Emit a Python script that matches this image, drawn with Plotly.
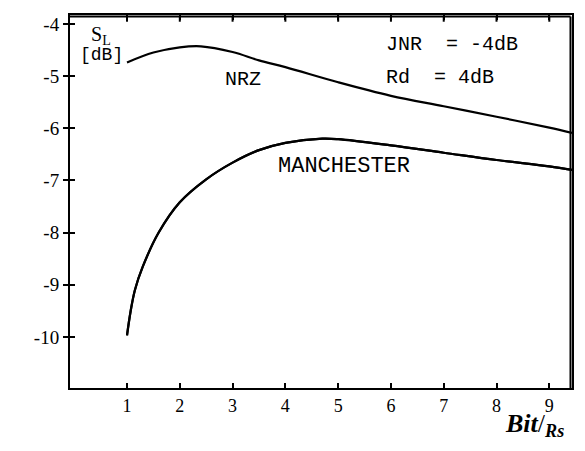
import plotly.graph_objects as go

# Data
nrz_x = [1.0, 1.5, 2.0, 2.4, 3.0, 3.5, 4.0, 5.0, 6.0, 7.0, 8.0, 9.0, 9.43]
nrz_y = [-4.74, -4.55, -4.45, -4.43, -4.54, -4.70, -4.83, -5.12, -5.38, -5.58, -5.78, -5.99, -6.09]

man_x = [1.0, 1.07, 1.15, 1.3, 1.6, 2.0, 2.5, 3.0, 3.5, 4.0, 4.7, 5.0, 6.0, 7.0, 8.0, 9.0, 9.43]
man_y = [-9.97, -9.5, -9.1, -8.65, -8.0, -7.42, -6.98, -6.66, -6.42, -6.28, -6.20, -6.21, -6.33, -6.47, -6.61, -6.73, -6.80]

x_ticks = [1, 2, 3, 4, 5, 6, 7, 8, 9]
x_tick_labels = ["1", "2", "3", "4", "5", "6", "7", "8", "9"]
y_ticks = [-4, -5, -6, -7, -8, -9, -10]
y_tick_labels = ["-4", "-5", "-6", "-7", "-8", "-9", "-10"]

x_range = [-0.08, 9.43]
y_range = [-10.98, -3.83]

line_style = dict(color="black", width=2.2, shape="spline")
fig = go.Figure()
fig.add_trace(go.Scatter(x=nrz_x, y=nrz_y, mode="lines", line=line_style, showlegend=False, hoverinfo="skip"))
fig.add_trace(go.Scatter(x=man_x, y=man_y, mode="lines", line=line_style, showlegend=False, hoverinfo="skip"))
# same curve drawn again on the overlay axis that carries the inner halves of the left ticks
fig.add_trace(go.Scatter(x=man_x, y=man_y, mode="lines", line=line_style, xaxis="x", yaxis="y3",
                         showlegend=False, hoverinfo="skip"))

mono = "Liberation Mono"
serif = "Liberation Serif"

annotations = [
    dict(x=3.19, y=-5.07, text="NRZ", font=dict(family=mono, size=20, color="black")),
    dict(x=5.11, y=-6.74, text="MANCHESTER", font=dict(family=mono, size=22, color="black")),
    dict(x=5.87, y=-4.40, text="JNR  = -4dB", xanchor="left", font=dict(family=mono, size=20, color="black")),
    dict(x=5.87, y=-5.02, text="Rd  = 4dB", xanchor="left", font=dict(family=mono, size=20, color="black")),
    dict(x=0.5, y=-4.22, text="S<sub>L</sub>", font=dict(family=serif, size=20, color="black")),
    dict(x=0.52, y=-4.59, text="[dB]", font=dict(family=mono, size=18, color="black")),
]
for a in annotations:
    a.update(xref="x", yref="y", showarrow=False)
annotations.append(dict(xref="paper", yref="paper", x=0.926, y=-0.099, xanchor="center", yanchor="middle",
                        showarrow=False, text="<b><i>Bit</i></b>/<sub><b><i>Rs</i></b></sub>",
                        font=dict(family=serif, size=26, color="black")))

# top and right frame lines (slightly inside the plot area) plus the top-axis tick marks
top = 0.996
right = 0.997
shapes = [
    dict(type="line", xref="paper", yref="paper", x0=0, x1=right, y0=top, y1=top,
         line=dict(color="black", width=2), layer="above"),
    dict(type="line", xref="paper", yref="paper", x0=right, x1=right, y0=0, y1=top,
         line=dict(color="black", width=2), layer="above"),
]
for t in x_ticks:
    shapes.append(dict(type="line", xref="x", yref="y domain", x0=t, x1=t, y0=top, y1=top - 0.014,
                       line=dict(color="black", width=2), layer="above"))

frame = dict(showline=True, linewidth=2, linecolor="black", showgrid=False, zeroline=False)
fig.update_layout(
    width=585, height=451,
    margin=dict(l=70, r=13, t=15, b=63, autoexpand=False),
    paper_bgcolor="white", plot_bgcolor="white",
    annotations=annotations, shapes=shapes,
    xaxis=dict(range=x_range, tickvals=x_ticks, ticktext=x_tick_labels, ticks="inside", ticklen=5,
               tickwidth=2, tickcolor="black", mirror="ticks",
               tickfont=dict(family=serif, size=18, color="black"), **frame),
    yaxis=dict(range=y_range, tickvals=y_ticks, ticktext=y_tick_labels, ticks="outside", ticklen=5,
               tickwidth=2, tickcolor="black", mirror=True,
               tickfont=dict(family=serif, size=19, color="black"), **frame),
    yaxis3=dict(range=y_range, overlaying="y", side="left", tickvals=y_ticks, ticks="inside", ticklen=5,
                tickwidth=2, tickcolor="black", showticklabels=False, showline=False, showgrid=False,
                zeroline=False),
)

fig.write_html("out.html", config={"displayModeBar": False},
               post_script="document.body.style.margin='0';document.body.style.padding='0';")
